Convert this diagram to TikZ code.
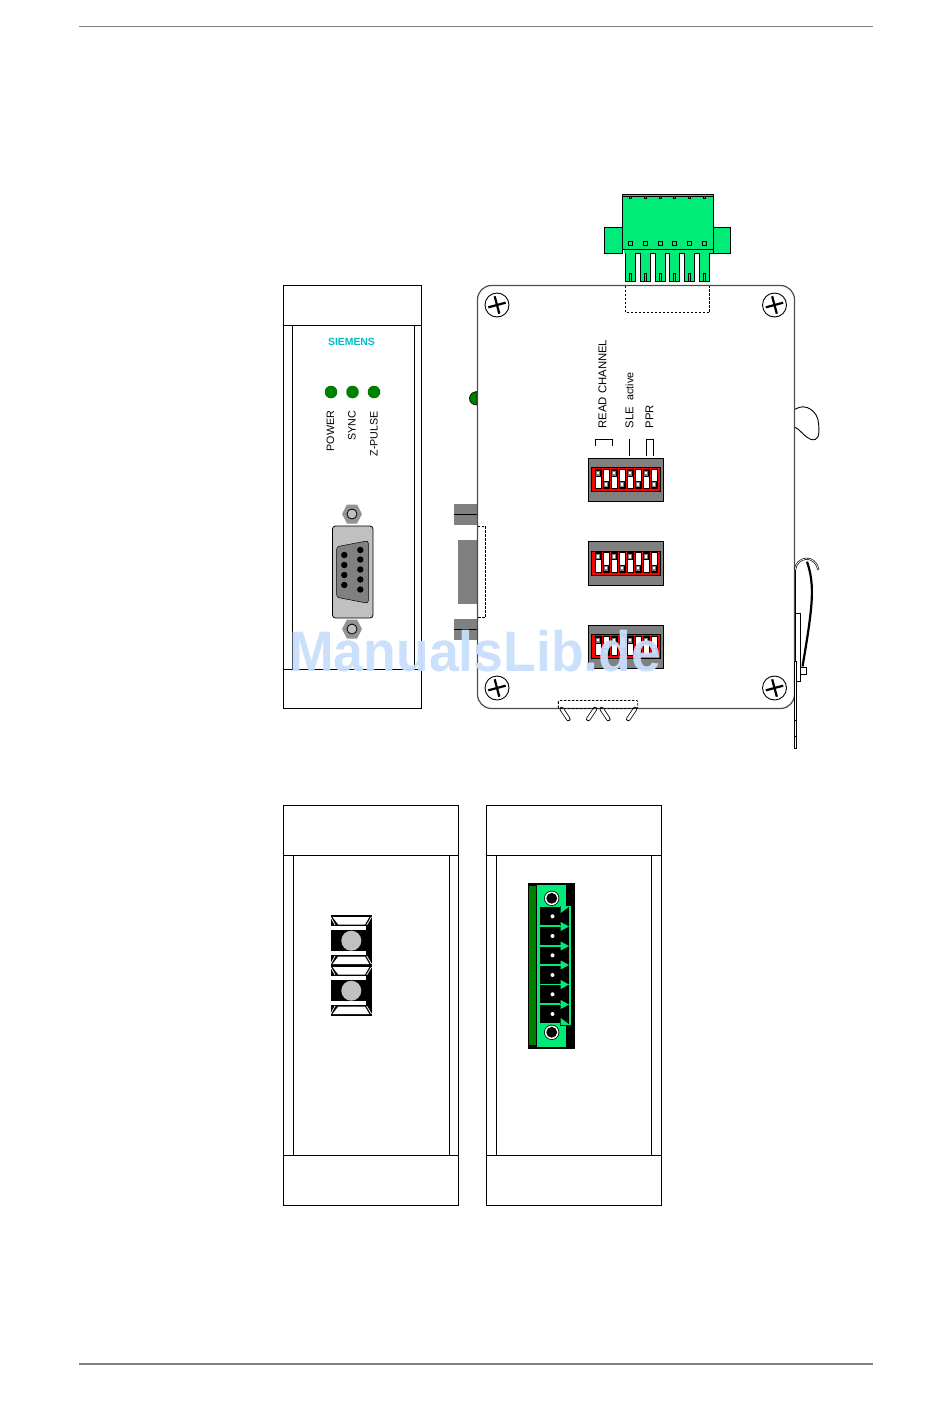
\documentclass[tikz,border=0pt]{standalone}
\usepackage{fontspec}
\setmainfont{Liberation Sans}
\definecolor{plugGreen}{RGB}{0,235,120}
\definecolor{ledGreen}{RGB}{0,128,0}
\definecolor{unitGray}{RGB}{128,128,128}
\definecolor{plateGray}{RGB}{192,192,192}
\definecolor{siemensTeal}{RGB}{0,190,190}
\definecolor{markBlue}{RGB}{200,222,250}
\tikzset{
  thinbox/.style={draw=black,line width=0.7pt},
  sidetext/.style={rotate=90,anchor=west,inner sep=0pt,font=\fontsize{11.3}{12}\selectfont},
  ledtext/.style={sidetext,font=\fontsize{10.7}{12}\selectfont},
  cutline/.style={draw=black,line width=0.9pt,dash pattern=on 2.5pt off 1.5pt},
  plugline/.style={draw=black,line width=1pt,fill=plugGreen},
  thumbdot/.style={draw=black,line width=0.6pt,fill=unitGray}
}
%dip-switch, (#1,#2) er oeverste venstre hjoerne
\newcommand{\dipblock}[2]{
  \begin{scope}[shift={(#1,#2)}]
	\draw[black,line width=0.8pt,fill=unitGray] (0,0) rectangle (75,43.5);
	\draw[black,line width=0.8pt,fill=red] (3,9.5) rectangle (72,33.5);
	\foreach \n in {0,2,4,6}{
		\draw[black,line width=0.4pt,fill=white] (7+8*\n,11) rectangle (13+8*\n,30.5);
		\draw[thumbdot] (7.3+8*\n,12) rectangle (12.7+8*\n,18);
		\fill[white] (9+8*\n,13.7) rectangle (11+8*\n,16);
		\draw[black,line width=0.4pt,fill=white] (15+8*\n,11) rectangle (21+8*\n,30.5);
		\draw[thumbdot] (15.3+8*\n,23.5) rectangle (20.7+8*\n,29.5);
		\fill[white] (17+8*\n,25.2) rectangle (19+8*\n,27.5);
	}
  \end{scope}
}
\begin{document}
\begin{tikzpicture}[x=1pt,y=-1pt]
  \useasboundingbox (0,0) rectangle (950,1409);
  %sidens linjer
	\draw[unitGray,line width=1.2pt] (79,26.5) -- (873,26.5);
	\draw[unitGray,line width=1.2pt] (79,1364) -- (873,1364);

  %front, venstre enhed
	\draw[thinbox] (283.5,285.5) rectangle (421.5,708.5);
	\draw[thinbox] (283.5,325.5) -- (421.5,325.5);
	\draw[thinbox] (283.5,669) -- (421.5,669);
	\draw[thinbox] (292,325.5) -- (292,669);
	\draw[thinbox] (414,325.5) -- (414,669);
	\node[inner sep=0pt,text=siemensTeal,font=\fontsize{10.4}{11}\selectfont\bfseries] (siemens) at (351.5,341.5) {SIEMENS};
	\foreach \x in {331,352.5,374}
		\fill[ledGreen] (\x,392) circle (6.3);
	\node[ledtext] (power) at (330.5,451.5) {POWER};
	\node[ledtext] (sync) at (352,440.5) {SYNC};
	\node[ledtext] (zpulse) at (374,456.5) {Z-PULSE};

  %sub-d stik
	\foreach \y in {514,629}{
		\fill[unitGray!85!white] (342,\y) -- (347,\y-9.5) -- (357,\y-9.5) -- (362,\y) -- (357,\y+9.5) -- (347,\y+9.5) -- cycle;
		\draw[black,line width=0.8pt,fill=plateGray] (352,\y) circle (5);
	}
	\draw[black,line width=0.8pt,fill=plateGray,rounded corners=3pt] (332.5,526) rectangle (373,618);
	\draw[black,line width=0.5pt,fill=unitGray,rounded corners=2.5pt] (336.7,546.7) -- (368.3,540.7) -- (368.3,603.3) -- (336.7,597.3) -- cycle;
	\foreach \y in {555,565,575,585}
		\fill[black] (344.3,\y) circle (3.2);
	\foreach \y in {550,559.5,569.5,579.5,589.5}
		\fill[black] (360.3,\y) circle (3.2);

  %hoejre enhed, bagkant
	\fill[unitGray] (454,504) rectangle (477,525);
	\draw[black] (454,514.5) -- (477,514.5);
	\fill[unitGray] (458,540) rectangle (477,604);
	\fill[unitGray] (454,619) rectangle (477,640);
	\draw[black] (454,629.5) -- (477,629.5);
	\draw[black,line width=0.7pt,fill=ledGreen] (477,391.5) .. controls (467,392) and (467,405) .. (477,405) -- cycle;

  %stik forneden
	\foreach \a/\b in {561.7/568.3,595/588.3,601.7/608.3,635/628.3}{
		\draw[black,line width=4.4pt,line cap=round] (\a,709) -- (\b,719);
		\draw[white,line width=2.8pt,line cap=round] (\a,709) -- (\b,719);
	}

  %hoejre enhed
	\draw[black!70,line width=1.2pt,rounded corners=14pt] (477.5,285.5) rectangle (794.5,708.5);
	\draw[cutline] (477.5,526) -- (485.5,526) -- (485.5,617) -- (477.5,617);
	\draw[cutline] (625.5,285.5) -- (625.5,312.5) -- (709.5,312.5) -- (709.5,285.5);
	\draw[cutline,rounded corners=1pt] (558.3,700.5) rectangle (637.7,708.5);
	\foreach \x/\y in {497/305,774.5/305,497/688,774.5/688}{
		\draw[black,line width=0.9pt] (\x,\y) circle (12);
		\draw[black,line width=2.2pt,rotate around={15:(\x,\y)}] (\x-9,\y) -- (\x+9,\y);
		\draw[black,line width=2.2pt,rotate around={15:(\x,\y)}] (\x,\y-9) -- (\x,\y+9);
	}

  %tekster ved dip-switch
	\node[sidetext] (readch) at (602.5,428.5) {READ CHANNEL};
	\node[sidetext] (sle) at (629.5,428.5) {SLE};
	\node[sidetext,font=\fontsize{10.7}{11}\selectfont] (act) at (629.5,400.5) {active};
	\node[sidetext] (ppr) at (649.5,428.5) {PPR};
	\draw[black,line width=0.8pt] (595,445.5) -- (595,439.5) -- (612.5,439.5) -- (612.5,445.5);
	\draw[black,line width=0.8pt] (629.5,439) -- (629.5,456);
	\draw[black,line width=0.8pt] (646.5,456) -- (646.5,439.5) -- (653,439.5) -- (653,456);
	\dipblock{588}{458}
	\dipblock{588}{541.5}
	\dipblock{588}{625}

  %stik foroven
	\draw[plugline] (604.3,227.3) rectangle (622.3,253.3);
	\draw[plugline] (713.7,227.3) rectangle (730.3,253.3);
	\foreach \x in {625.3,640.3,655.3,669.3,684.3,699.3}{
		\draw[plugline] (\x,250) rectangle (\x+10.4,281.3);
		\draw[black,line width=0.8pt] (\x+4,281.3) -- (\x+4,273.5) -- (\x+6.4,273.5) -- (\x+6.4,281.3);
	}
	\draw[black,line width=1pt] (625.3,253) -- (712.5,253);
	\foreach \x in {625.8,640.8,655.8,669.8,684.8,699.8}
		\fill[plugGreen] (\x,250) rectangle (\x+9.4,254.5);
	\fill[plugGreen] (623.5,249.5) rectangle (712.5,252.5);
	\draw[plugline] (622.3,194.5) rectangle (713.7,249.3);
	\draw[black,line width=1pt] (622.3,196.8) -- (713.7,196.8);
	\foreach \x in {630.3,645.3,660.3,674.3,689.3,704.3}{
		\draw[black,line width=0.8pt] (\x-1.2,196.8) -- (\x-1.2,198.8) -- (\x+1.2,198.8) -- (\x+1.2,196.8);
		\draw[black,line width=0.9pt] (\x-2,241.3) rectangle (\x+2,245.3);
	}

  %dinskinne og fjeder
	\draw[black,line width=0.9pt] (795,409.3) .. controls (806,402) and (818,412) .. (818.5,423) .. controls (820,436) and (818,441) .. (811,439.5) .. controls (804,437) and (800,429) .. (795,427.3);
	\draw[black,line width=2.2pt] (807,561.7) .. controls (815,585) and (813,605) .. (802.5,666.5);
	\draw[black,line width=2pt] (795,570) .. controls (796,557) and (815,553) .. (818.3,570);
	\draw[white,line width=0.7pt] (795,570) .. controls (796,557) and (815,553) .. (818.3,570);
	\draw[black,line width=0.7pt] (795,570) -- (795,613.3);
	\draw[black,line width=0.7pt,fill=white] (795,613.3) rectangle (800.7,681.7);
	\draw[black,line width=0.7pt,fill=white] (800.7,667.3) rectangle (806.7,674.3);
	\draw[black,line width=0.7pt,fill=white] (794.5,661.7) rectangle (796.5,748.3);
	\draw[black,line width=0.5pt] (794.5,720) -- (796.5,720);
	\draw[black,line width=0.5pt] (794.5,736.5) -- (796.5,736.5);

  %nederste venstre enhed
	\draw[thinbox] (283.5,805.5) rectangle (458.5,1205.5);
	\draw[thinbox] (283.5,855.5) -- (458.5,855.5);
	\draw[thinbox] (283.5,1155.5) -- (458.5,1155.5);
	\draw[thinbox] (293.5,855.5) -- (293.5,1155.5);
	\draw[thinbox] (449.5,855.5) -- (449.5,1155.5);
	\fill[black] (330.7,915) rectangle (371.7,1015.7);
	\foreach \y in {0,50}{
	  \begin{scope}[shift={(0,\y)}]
		\fill[plateGray] (351.3,940.7) circle (10);
		\fill[white] (332.5,917) -- (369.3,917) -- (365,924.5) -- (338.3,924.5) -- cycle;
		\draw[white,line width=0.7pt] (330.7,917) -- (335,925);
		\draw[white,line width=0.7pt] (371.5,917) -- (366.7,925);
		\fill[white] (330.7,925.7) rectangle (366,930);
		\fill[white] (330.7,951) rectangle (366,955);
		\fill[white] (338.3,956.5) -- (365,956.5) -- (369.3,964) -- (332.5,964) -- cycle;
		\draw[white,line width=0.7pt] (335,956) -- (330.7,964);
		\draw[white,line width=0.7pt] (366.7,956) -- (371.5,964);
	  \end{scope}
	}

  %nederste hoejre enhed
	\draw[thinbox] (486.5,805.5) rectangle (661.5,1205.5);
	\draw[thinbox] (486.5,855.5) -- (661.5,855.5);
	\draw[thinbox] (486.5,1155.5) -- (661.5,1155.5);
	\draw[thinbox] (496.5,855.5) -- (496.5,1155.5);
	\draw[thinbox] (651.5,855.5) -- (651.5,1155.5);
	\fill[black] (528.3,882.5) rectangle (575,1049);
	\fill[ledGreen] (529.3,886) rectangle (536,1045);
	\fill[plugGreen] (537.3,885) rectangle (566,1046.7);
	\foreach \y in {898.3,1032.3}{
		\fill[black] (551.7,\y) circle (7.6);
		\fill[white] (551.7,\y) circle (6.8);
		\fill[black] (551.7,\y) circle (5.4);
	}
	\fill[black] (560,906) rectangle (575,1025.5);
	\fill[plugGreen] (569.3,906) rectangle (570.8,1025);
	\foreach \y in {916.3,936,955.3,975,994.3,1014}{
		\fill[black] (540,\y-9) rectangle (561,\y+9);
		\fill[white] (552.5,\y) circle (2);
	}
	\foreach \y in {926.5,946,965,984.5,1004.5}{
		\fill[plugGreen] (540,\y-0.8) rectangle (561,\y+0.8);
		\fill[plugGreen] (560.7,\y-4.5) -- (569,\y) -- (560.7,\y+4.5) -- cycle;
	}
	\fill[plugGreen] (560.7,906) -- (570,906) -- (560.7,913) -- cycle;
	\fill[plugGreen] (560.7,1018) -- (570,1025) -- (560.7,1025) -- cycle;

  %vandmaerke
	\node[anchor=base west,inner sep=0pt,text=markBlue,opacity=0.95,xscale=0.94,font=\fontsize{57}{57}\selectfont\bfseries] (mark) at (289,671) {ManualsLib.de};
\end{tikzpicture}
\end{document}
